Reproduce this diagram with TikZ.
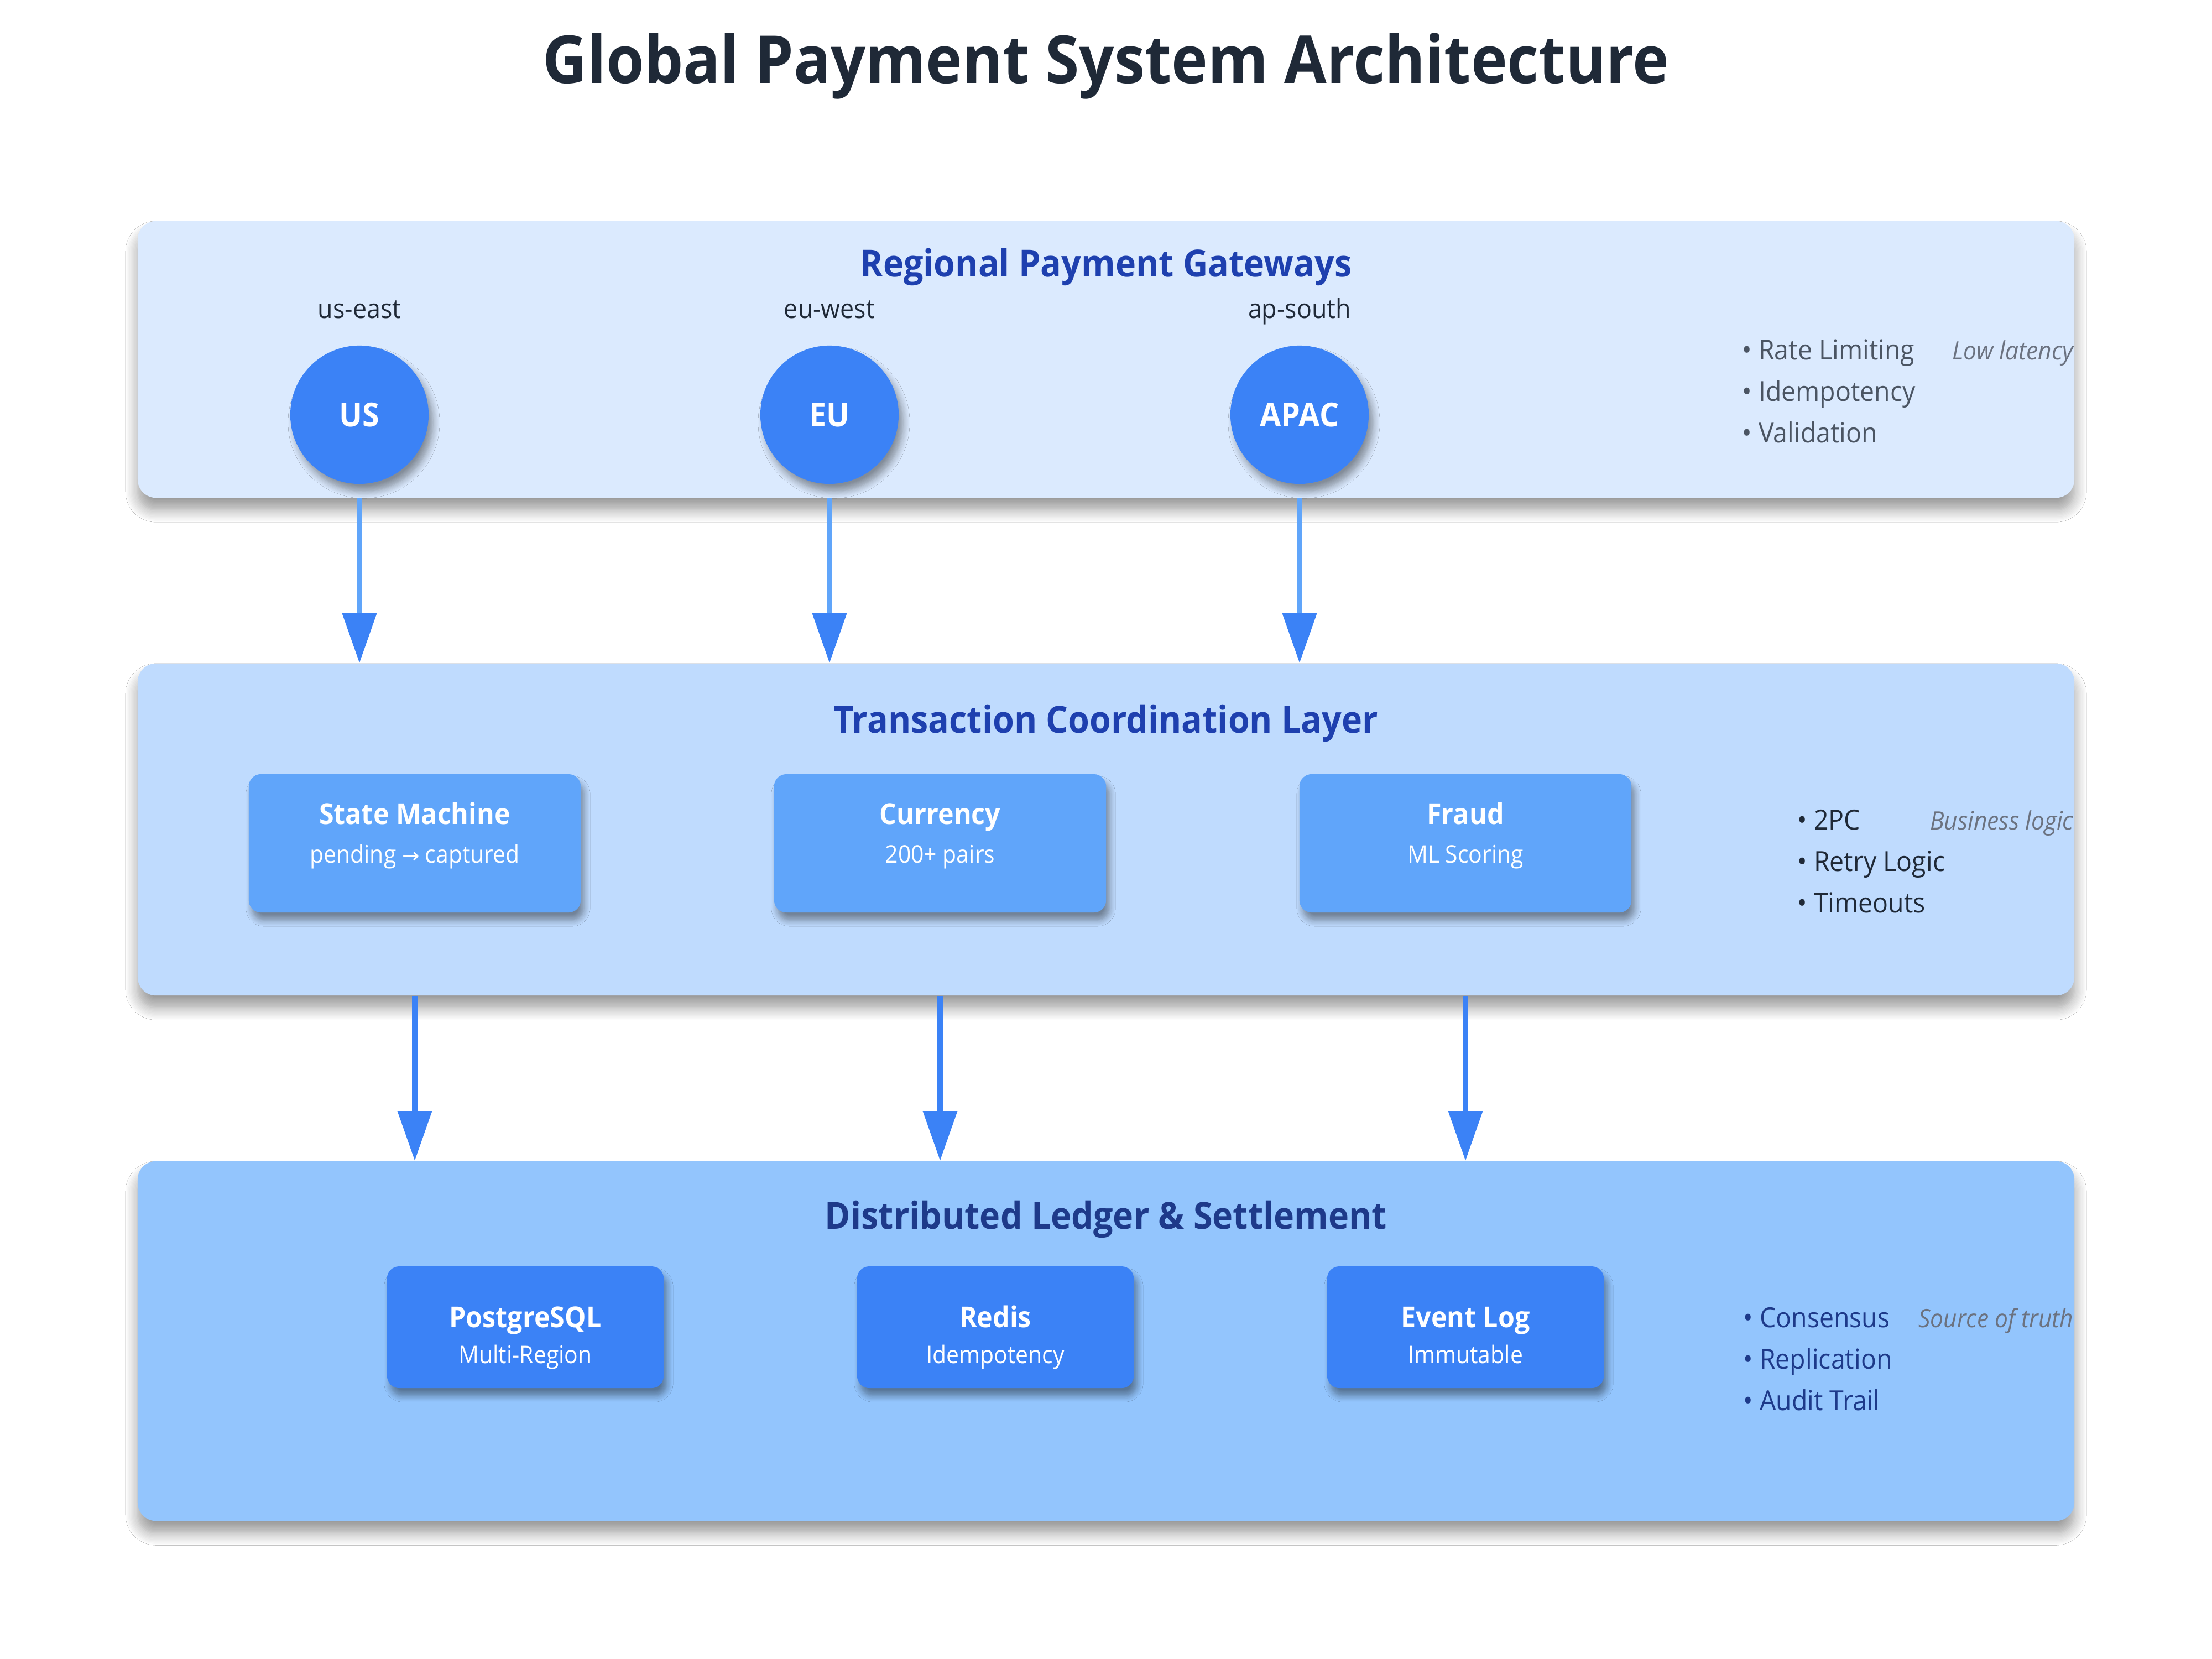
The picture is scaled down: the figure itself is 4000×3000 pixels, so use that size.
\documentclass[tikz,border=0pt]{standalone}
\usepackage{fontspec}
\setmainfont{Open Sans}[FakeStretch=0.93]
\newfontfamily\symfont{DejaVu Sans}[Scale=0.85]
\usetikzlibrary{arrows.meta,shadows.blur}
\definecolor{ink}{HTML}{1F2937}
\definecolor{gray600}{HTML}{4B5563}
\definecolor{gray500}{HTML}{6B7280}
\definecolor{blue100}{HTML}{DBEAFE}
\definecolor{blue200}{HTML}{BFDBFE}
\definecolor{blue300}{HTML}{93C5FD}
\definecolor{blue400}{HTML}{60A5FA}
\definecolor{blue500}{HTML}{3B82F6}
\definecolor{blue800}{HTML}{1E40AF}
\definecolor{blue900}{HTML}{1E3A8A}
\newcommand{\fs}[1]{\fontsize{#1}{1.2\dimexpr#1\relax}\selectfont}
\begin{document}
\begin{tikzpicture}[x=0.01cm,y=-0.01cm,
  txt/.style={inner sep=0pt, anchor=base},
  layerbox/.style={rounded corners=0.33cm, minimum width=35cm, inner sep=0pt,
    blur shadow={shadow xshift=0cm, shadow yshift=-0.22cm, shadow blur radius=0.22cm, shadow opacity=40, shadow blur steps=10}},
  gw/.style={circle, fill=blue500, minimum size=2.5cm, inner sep=0pt, text=white, font=\bfseries\fs{17pt},
    blur shadow={shadow xshift=0.08cm, shadow yshift=-0.14cm, shadow blur radius=0.12cm, shadow opacity=40, shadow blur steps=8}},
  card/.style={rounded corners=0.22cm, inner sep=0pt,
    blur shadow={shadow xshift=0.06cm, shadow yshift=-0.14cm, shadow blur radius=0.11cm, shadow opacity=40, shadow blur steps=8}},
  layertitle/.style={txt, font=\bfseries\fs{19.2pt}},
  region/.style={txt, font=\fs{13.7pt}, text=ink},
  cardtitle/.style={txt, font=\bfseries\fs{14.8pt}, text=white},
  cardsub/.style={txt, font=\fs{12.5pt}, text=white},
  bullet/.style={txt, anchor=base west, font=\fs{14.2pt}},
  note/.style={txt, anchor=base east, font=\itshape\fs{13pt}, text=gray500},
  flowlight/.style={draw=blue400, line width=0.1cm, -{Triangle[length=0.9cm,width=0.6cm,color=blue500]}},
  flowdark/.style={draw=blue500, line width=0.1cm, -{Triangle[length=0.9cm,width=0.6cm]}}
]
\fill[white] (0,0) rectangle (4000,3000);
\useasboundingbox (0,0) rectangle (4000,3000);

% title
\node[txt, font=\bfseries\fs{34pt}, text=ink] (title) at (2000,150) {Global Payment System Architecture};

% layers
\node[layerbox, fill=blue100, minimum height=5cm] (l1) at (2000,650) {};
\node[layerbox, fill=blue200, minimum height=6cm] (l2) at (2000,1500) {};
\node[layerbox, fill=blue300, minimum height=6.5cm] (l3) at (2000,2425) {};

% layer 1
\node[layertitle, text=blue800] (l1t) at (2000,500) {Regional Payment Gateways};
\node[region] (usl) at (650,575) {us-east};
\node[region] (eul) at (1500,575) {eu-west};
\node[region] (apl) at (2350,575) {ap-south};
\node[gw] (us) at (650,750) {US};
\node[gw] (eu) at (1500,750) {EU};
\node[gw] (ap) at (2350,750) {APAC};
\node[bullet, text=gray600] (b11) at (3150,650) {• Rate Limiting};
\node[bullet, text=gray600] (b12) at (3150,725) {• Idempotency};
\node[bullet, text=gray600] (b13) at (3150,800) {• Validation};
\node[note] (n1) at (3750,650) {Low latency};

% layer 2
\node[layertitle, text=blue800] (l2t) at (2000,1325) {Transaction Coordination Layer};
\node[card, fill=blue400, minimum width=6cm, minimum height=2.5cm] (sm) at (750,1525) {};
\node[card, fill=blue400, minimum width=6cm, minimum height=2.5cm] (cur) at (1700,1525) {};
\node[card, fill=blue400, minimum width=6cm, minimum height=2.5cm] (fr) at (2650,1525) {};
\node[cardtitle] (smt) at (750,1490) {State Machine};
\node[cardsub] (sms) at (750,1560) {pending {\symfont →} captured};
\node[cardtitle] (curt) at (1700,1490) {Currency};
\node[cardsub] (curs) at (1700,1560) {200+ pairs};
\node[cardtitle] (frt) at (2650,1490) {Fraud};
\node[cardsub] (frs) at (2650,1560) {ML Scoring};
\node[bullet, text=ink] (b21) at (3250,1500) {• 2PC};
\node[bullet, text=ink] (b22) at (3250,1575) {• Retry Logic};
\node[bullet, text=ink] (b23) at (3250,1650) {• Timeouts};
\node[note] (n2) at (3750,1500) {Business logic};

% layer 3
\node[layertitle, text=blue900] (l3t) at (2000,2222) {Distributed Ledger \& Settlement};
\node[card, fill=blue500, minimum width=5cm, minimum height=2.2cm] (pg) at (950,2400) {};
\node[card, fill=blue500, minimum width=5cm, minimum height=2.2cm] (rd) at (1800,2400) {};
\node[card, fill=blue500, minimum width=5cm, minimum height=2.2cm] (ev) at (2650,2400) {};
\node[cardtitle] (pgt) at (950,2400) {PostgreSQL};
\node[cardsub] (pgs) at (950,2465) {Multi-Region};
\node[cardtitle] (rdt) at (1800,2400) {Redis};
\node[cardsub] (rds) at (1800,2465) {Idempotency};
\node[cardtitle] (evt) at (2650,2400) {Event Log};
\node[cardsub] (evs) at (2650,2465) {Immutable};
\node[bullet, text=blue900] (b31) at (3152,2400) {• Consensus};
\node[bullet, text=blue900] (b32) at (3152,2475) {• Replication};
\node[bullet, text=blue900] (b33) at (3152,2550) {• Audit Trail};
\node[note] (n3) at (3750,2400) {Source of truth};

% connectors
\draw[flowlight] (us |- l1.south) -- (us |- l2.north);
\draw[flowlight] (eu |- l1.south) -- (eu |- l2.north);
\draw[flowlight] (ap |- l1.south) -- (ap |- l2.north);
\draw[flowdark] (sm |- l2.south) -- (sm |- l3.north);
\draw[flowdark] (cur |- l2.south) -- (cur |- l3.north);
\draw[flowdark] (fr |- l2.south) -- (fr |- l3.north);
\end{tikzpicture}
\end{document}
